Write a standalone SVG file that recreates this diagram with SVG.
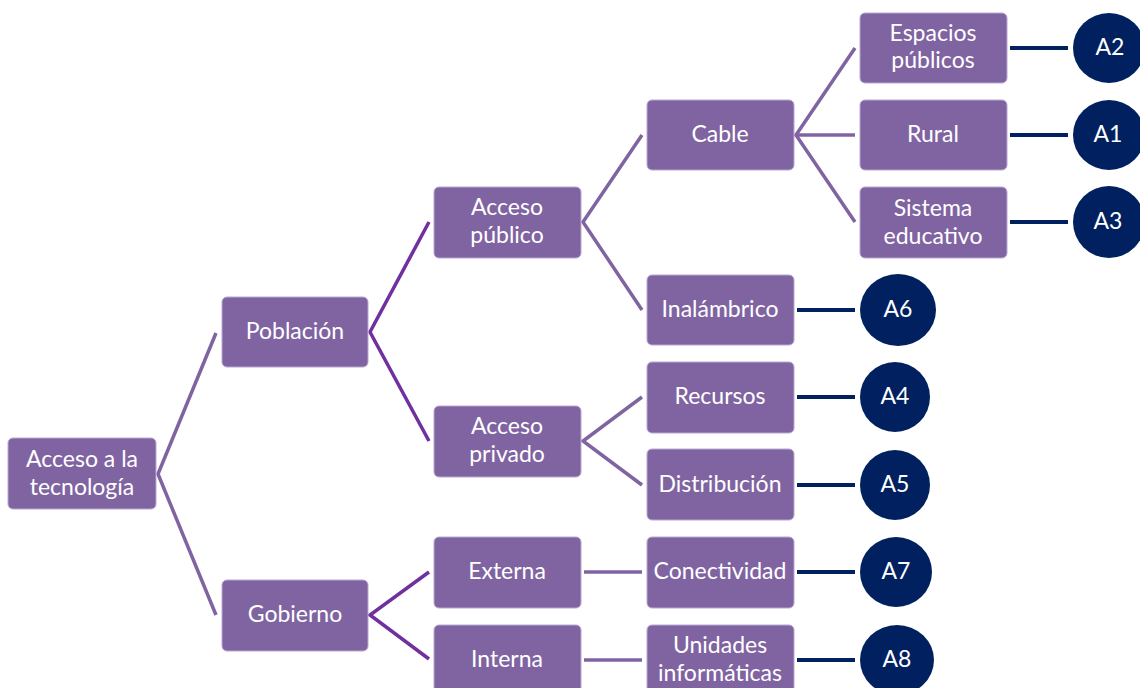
<svg xmlns="http://www.w3.org/2000/svg" width="1140" height="688" viewBox="0 0 1140 688">
<style>
.box{fill:#8064A2;stroke:#B9A8D0;stroke-width:1}
.t{font-family:Lato,"Open Sans",sans-serif;font-size:23px;fill:#fff;text-anchor:middle;dominant-baseline:central}
.c{fill:#002060}
.l1{stroke:#8064A2;stroke-width:3.5;fill:none}
.l2{stroke:#7030A0;stroke-width:3.5;fill:none}
.l3{stroke:#002060;stroke-width:4;fill:none}
</style>
<rect width="1140" height="688" fill="#fff"/>
<g id="connectors">
<polyline class="l1" points="216,333 158,474 216,615"/>
<polyline class="l2" points="429,222 370,332 429,441"/>
<polyline class="l2" points="429,572 370,615 429,659"/>
<polyline class="l1" points="642,135 583,222 642,310"/>
<polyline class="l1" points="642,397 583,441 642,485"/>
<polyline class="l1" points="855,48 796,135 855,222"/>
<line class="l1" x1="796" y1="135" x2="855" y2="135"/>
<line class="l1" x1="584" y1="572" x2="642" y2="572"/>
<line class="l1" x1="584" y1="660" x2="642" y2="660"/>
<line class="l3" x1="1010" y1="48" x2="1068" y2="48"/>
<line class="l3" x1="1010" y1="135" x2="1068" y2="135"/>
<line class="l3" x1="1010" y1="222" x2="1068" y2="222"/>
<line class="l3" x1="797" y1="310" x2="855" y2="310"/>
<line class="l3" x1="797" y1="397" x2="855" y2="397"/>
<line class="l3" x1="797" y1="485" x2="855" y2="485"/>
<line class="l3" x1="797" y1="572" x2="855" y2="572"/>
<line class="l3" x1="797" y1="660" x2="855" y2="660"/>
</g>
<g id="root"><rect class="box" x="8" y="438" width="148" height="71" rx="5"/><text class="t" x="82" y="458">Acceso a la</text><text class="t" x="82" y="486">tecnología</text></g>
<g id="poblacion"><rect class="box" x="222" y="297" width="146" height="70" rx="5"/><text class="t" x="295" y="330">Población</text></g>
<g id="gobierno"><rect class="box" x="222" y="580" width="146" height="71" rx="5"/><text class="t" x="295" y="613">Gobierno</text></g>
<g id="acceso-publico"><rect class="box" x="434" y="187" width="147" height="71" rx="5"/><text class="t" x="507" y="206">Acceso</text><text class="t" x="507" y="234">público</text></g>
<g id="acceso-privado"><rect class="box" x="434" y="406" width="147" height="71" rx="5"/><text class="t" x="507" y="425">Acceso</text><text class="t" x="507" y="453">privado</text></g>
<g id="externa"><rect class="box" x="434" y="537" width="147" height="71" rx="5"/><text class="t" x="507" y="570">Externa</text></g>
<g id="interna"><rect class="box" x="434" y="625" width="147" height="71" rx="5"/><text class="t" x="507" y="658">Interna</text></g>
<g id="cable"><rect class="box" x="647" y="100" width="147" height="70" rx="5"/><text class="t" x="720" y="133">Cable</text></g>
<g id="inalambrico"><rect class="box" x="647" y="275" width="147" height="70" rx="5"/><text class="t" x="720" y="308">Inalámbrico</text></g>
<g id="recursos"><rect class="box" x="647" y="362" width="147" height="71" rx="5"/><text class="t" x="720" y="395">Recursos</text></g>
<g id="distribucion"><rect class="box" x="647" y="449" width="147" height="71" rx="5"/><text class="t" x="720" y="483">Distribución</text></g>
<g id="conectividad"><rect class="box" x="647" y="537" width="147" height="71" rx="5"/><text class="t" x="720" y="570">Conectividad</text></g>
<g id="unidades"><rect class="box" x="647" y="625" width="147" height="71" rx="5"/><text class="t" x="720" y="644">Unidades</text><text class="t" x="720" y="672">informáticas</text></g>
<g id="espacios"><rect class="box" x="860" y="13" width="147" height="70" rx="5"/><text class="t" x="933" y="32">Espacios</text><text class="t" x="933" y="59">públicos</text></g>
<g id="rural"><rect class="box" x="860" y="100" width="147" height="70" rx="5"/><text class="t" x="933" y="133">Rural</text></g>
<g id="sistema"><rect class="box" x="860" y="187" width="147" height="71" rx="5"/><text class="t" x="933" y="207">Sistema</text><text class="t" x="933" y="235">educativo</text></g>
<g id="a2"><ellipse class="c" cx="1109" cy="48" rx="36" ry="35"/><text class="t" x="1110" y="46">A2</text></g>
<g id="a1"><ellipse class="c" cx="1109" cy="135" rx="36" ry="35"/><text class="t" x="1108" y="133">A1</text></g>
<g id="a3"><ellipse class="c" cx="1109" cy="222" rx="36" ry="36"/><text class="t" x="1108" y="220">A3</text></g>
<g id="a6"><ellipse class="c" cx="898" cy="310" rx="38" ry="36"/><text class="t" x="898" y="308">A6</text></g>
<g id="a4"><ellipse class="c" cx="895" cy="397" rx="35" ry="35"/><text class="t" x="895" y="395">A4</text></g>
<g id="a5"><ellipse class="c" cx="895" cy="485" rx="35" ry="35"/><text class="t" x="895" y="483">A5</text></g>
<g id="a7"><ellipse class="c" cx="896" cy="572" rx="36" ry="35"/><text class="t" x="896" y="570">A7</text></g>
<g id="a8"><ellipse class="c" cx="897" cy="660" rx="37" ry="35"/><text class="t" x="897" y="658">A8</text></g>
</svg>
